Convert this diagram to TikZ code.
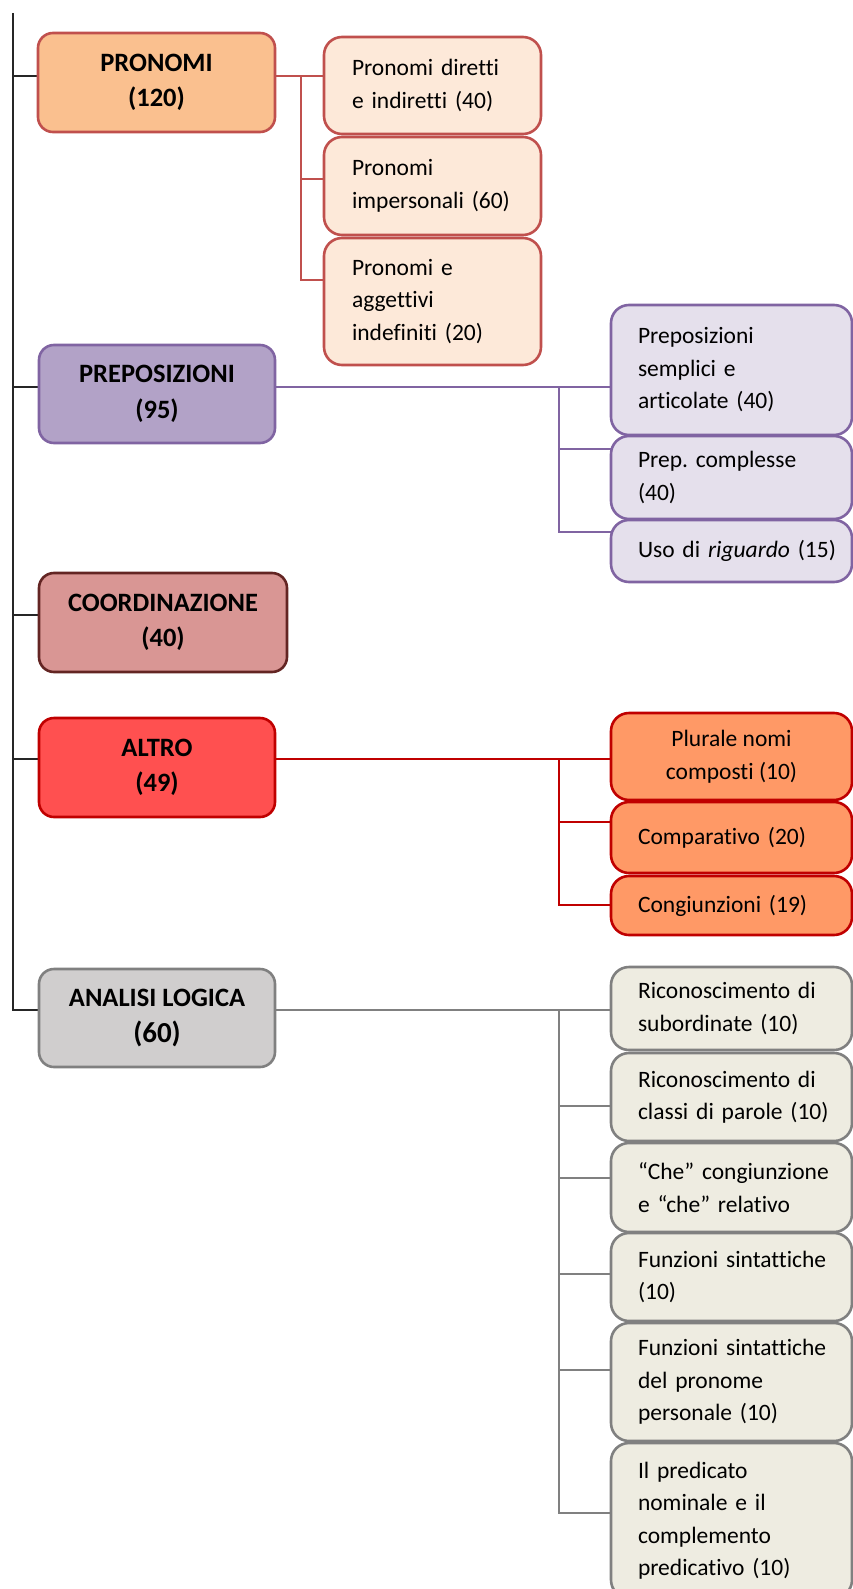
\documentclass[tikz,border=0pt]{standalone}
\usepackage{fontspec}
\setmainfont{Carlito}[Ligatures={NoCommon}]
\usetikzlibrary{backgrounds}
\hyphenpenalty=10000
\exhyphenpenalty=10000
\hbadness=10000
\hfuzz=50pt
\definecolor{trunkC}{HTML}{262626}
\definecolor{pronB}{HTML}{C0504D}
\definecolor{pronF}{HTML}{FAC08F}
\definecolor{pronS}{HTML}{FDE9D9}
\definecolor{prepB}{HTML}{8064A2}
\definecolor{prepF}{HTML}{B2A2C7}
\definecolor{prepS}{HTML}{E5E0EC}
\definecolor{coorB}{HTML}{632523}
\definecolor{coorF}{HTML}{D99694}
\definecolor{altB}{HTML}{C00000}
\definecolor{altF}{HTML}{FF5050}
\definecolor{altS}{HTML}{FF9966}
\definecolor{anaB}{HTML}{808080}
\definecolor{anaF}{HTML}{D0CECE}
\definecolor{anaS}{HTML}{EEECE1}
\begin{document}
\begin{tikzpicture}[x=1pt,y=1pt,
  mainbox/.style={draw, line width=2.6pt, rounded corners=15pt, align=center,
    font=\fontsize{26.5}{35.5}\selectfont\bfseries, anchor=north west, inner sep=0pt, outer sep=0pt},
  subbox/.style={draw, line width=2.6pt, rounded corners=18pt, align=left,
    font=\fontsize{23.5}{32.5}\selectfont,
    anchor=north west, inner sep=0pt, outer sep=0pt},
  trunk/.style={draw=trunkC, line width=2.8pt},
  con/.style={line width=2.8pt}]
\useasboundingbox (0,0) rectangle (853,-1589);

% main boxes
\node[mainbox, fill=pronF, draw=pronB, minimum width=237pt, minimum height=99pt] (pronomi) at (38,-33) {PRONOMI\\(120)};
\node[mainbox, fill=prepF, draw=prepB, minimum width=236pt, minimum height=98pt] (prep) at (39,-345) {PREPOSIZIONI\\(95)};
\node[mainbox, fill=coorF, draw=coorB, minimum width=248pt, minimum height=99pt] (coord) at (39,-573) {COORDINAZIONE\\(40)};
\node[mainbox, fill=altF, draw=altB, minimum width=236pt, minimum height=99pt] (altro) at (39,-718) {ALTRO\\(49)};
\node[mainbox, fill=anaF, draw=anaB, minimum width=236pt, minimum height=98pt] (analisi) at (39,-969) {ANALISI~LOGICA\\{\fontsize{29}{35.5}\selectfont(60)}};

% pronomi children
\node[subbox, fill=pronS, draw=pronB, text width=161pt, minimum width=217pt, minimum height=97pt] (p1) at (324,-37) {Pronomi~diretti\\e~indiretti~(40)};
\node[subbox, fill=pronS, draw=pronB, text width=161pt, minimum width=217pt, minimum height=98pt] (p2) at (324,-137) {Pronomi\\impersonali~(60)};
\node[subbox, fill=pronS, draw=pronB, text width=161pt, minimum width=217pt, minimum height=127pt] (p3) at (324,-238) {Pronomi~e\\aggettivi\\indefiniti~(20)};

% preposizioni children
\node[subbox, fill=prepS, draw=prepB, text width=187pt, minimum width=241pt, minimum height=130pt] (r1) at (611,-305) {Preposizioni\\semplici~e\\articolate~(40)};
\node[subbox, fill=prepS, draw=prepB, text width=187pt, minimum width=241pt, minimum height=83pt] (r2) at (611,-436) {Prep.~complesse\\(40)};
\node[subbox, fill=prepS, draw=prepB, text width=187pt, minimum width=241pt, minimum height=62pt] (r3) at (611,-520) {Uso~di~\textit{riguardo}~(15)};

% altro children
\node[subbox, align=center, fill=altS, draw=altB, minimum width=241pt, minimum height=87pt] (a1) at (611,-713) {Plurale~nomi\\composti~(10)};
\node[subbox, fill=altS, draw=altB, text width=187pt, minimum width=241pt, minimum height=71pt] (a2) at (611,-802) {Comparativo~(20)};
\node[subbox, fill=altS, draw=altB, text width=187pt, minimum width=241pt, minimum height=59pt] (a3) at (611,-876) {Congiunzioni~(19)};

% analisi children
\node[subbox, fill=anaS, draw=anaB, text width=187pt, minimum width=241pt, minimum height=83pt] (g1) at (611,-967) {Riconoscimento~di\\subordinate~(10)};
\node[subbox, fill=anaS, draw=anaB, text width=187pt, minimum width=241pt, minimum height=88pt] (g2) at (611,-1053) {Riconoscimento~di\\classi~di~parole~(10)};
\node[subbox, fill=anaS, draw=anaB, text width=187pt, minimum width=241pt, minimum height=89pt] (g3) at (611,-1143) {“Che”~congiunzione\\e~“che”~relativo};
\node[subbox, fill=anaS, draw=anaB, text width=187pt, minimum width=241pt, minimum height=88pt] (g4) at (611,-1233) {Funzioni~sintattiche\\(10)};
\node[subbox, fill=anaS, draw=anaB, text width=187pt, minimum width=241pt, minimum height=118pt] (g5) at (611,-1323) {Funzioni~sintattiche\\del~pronome\\personale~(10)};
\node[subbox, fill=anaS, draw=anaB, text width=187pt, minimum width=241pt, minimum height=155pt] (g6) at (611,-1443) {Il~predicato\\nominale~e~il\\complemento\\predicativo~(10)};

% coordinates for connectors
\coordinate (ttop) at (13,-13);
\coordinate (tbot) at (13,-1010);
\coordinate (t1) at (13,-76);
\coordinate (t2) at (13,-387);
\coordinate (t3) at (13,-615);
\coordinate (t4) at (13,-759);
\coordinate (pb1) at (301,-76);
\coordinate (pb2) at (301,-179);
\coordinate (pb3) at (301,-280);
\coordinate (rb1) at (559,-387);
\coordinate (rb2) at (559,-449);
\coordinate (rb3) at (559,-532);
\coordinate (ab1) at (559,-759);
\coordinate (ab2) at (559,-822);
\coordinate (ab3) at (559,-905);
\coordinate (gb1) at (559,-1010);
\coordinate (gb2) at (559,-1106);
\coordinate (gb3) at (559,-1178);
\coordinate (gb4) at (559,-1274);
\coordinate (gb5) at (559,-1370);
\coordinate (gb6) at (559,-1513);

\begin{scope}[on background layer]
% trunk
\draw[trunk] (ttop) -- (tbot) -- (analisi.west |- tbot);
\draw[trunk] (t1) -- (pronomi.west |- t1);
\draw[trunk] (t2) -- (prep.west |- t2);
\draw[trunk] (t3) -- (coord.west |- t3);
\draw[trunk] (t4) -- (altro.west |- t4);
% pronomi
\draw[con, draw=pronB] (pronomi.east |- pb1) -- (p1.west |- pb1);
\draw[con, draw=pronB] (pb1) -- (pb3) -- (p3.west |- pb3);
\draw[con, draw=pronB] (pb2) -- (p2.west |- pb2);
% preposizioni
\draw[con, draw=prepB] (prep.east |- rb1) -- (r1.west |- rb1);
\draw[con, draw=prepB] (rb1) -- (rb3) -- (r3.west |- rb3);
\draw[con, draw=prepB] (rb2) -- (r2.west |- rb2);
% altro
\draw[con, draw=altB] (altro.east |- ab1) -- (a1.west |- ab1);
\draw[con, draw=altB] (ab1) -- (ab3) -- (a3.west |- ab3);
\draw[con, draw=altB] (ab2) -- (a2.west |- ab2);
% analisi
\draw[con, draw=anaB] (analisi.east |- gb1) -- (g1.west |- gb1);
\draw[con, draw=anaB] (gb1) -- (gb6) -- (g6.west |- gb6);
\draw[con, draw=anaB] (gb2) -- (g2.west |- gb2);
\draw[con, draw=anaB] (gb3) -- (g3.west |- gb3);
\draw[con, draw=anaB] (gb4) -- (g4.west |- gb4);
\draw[con, draw=anaB] (gb5) -- (g5.west |- gb5);
\end{scope}
\end{tikzpicture}
\end{document}
